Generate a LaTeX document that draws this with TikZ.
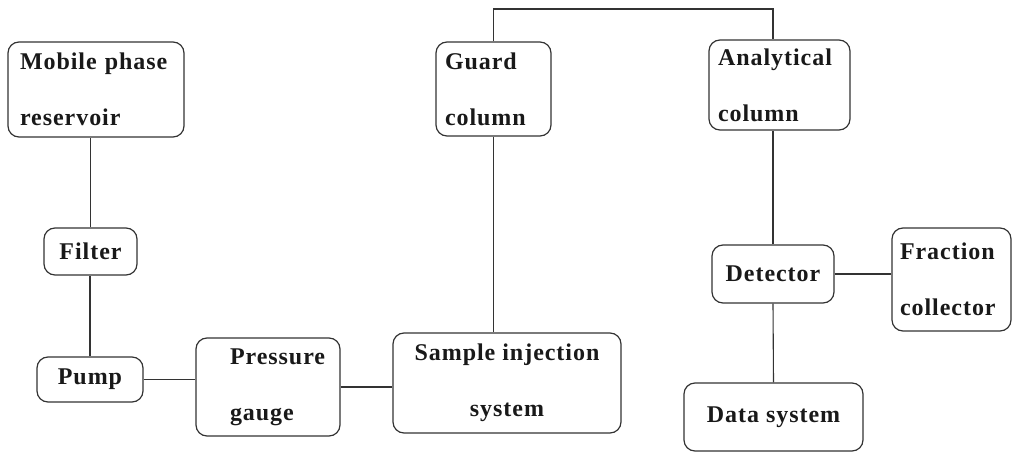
\documentclass[tikz,border=0pt]{standalone}
\usepackage{fontspec}
\newfontfamily\lblfont{Liberation Serif}[LetterSpace=4]
\begin{document}
\begin{tikzpicture}[x=1pt,y=-1pt,
  box/.style={draw=black!80, line width=1.2pt, rounded corners=11pt, inner ysep=0pt,
    font=\lblfont\bfseries\fontsize{24}{56}\selectfont, text=black!90},
  lbox/.style={box, align=left},
  conn/.style={draw=black!80, line width=1.1pt}]
\useasboundingbox (0,0) rectangle (1012,452);
\node[lbox, minimum width=176pt, minimum height=95pt, text width=152pt, inner xsep=12pt] (mpr) at (96,89.5) {Mobile phase\\reservoir};
\node[box, minimum width=93pt, minimum height=47pt] (filter) at (90.5,251.5) {Filter};
\node[box, minimum width=106pt, minimum height=45pt] (pump) at (90,379.5) {Pump};
\node[lbox, minimum width=144pt, minimum height=98pt, text width=76pt, inner xsep=34pt] (pressure) at (268,387) {Pressure\\gauge};
\node[box, align=center, minimum width=228pt, minimum height=100pt] (sample) at (507,383) {Sample injection\\system};
\node[lbox, minimum width=115pt, minimum height=94pt, text width=97pt, inner xsep=9pt] (guard) at (493.5,89) {Guard\\column};
\node[lbox, minimum width=141pt, minimum height=90pt, text width=123pt, inner xsep=9pt] (analytical) at (779.5,85) {Analytical\\column};
\node[box, minimum width=122pt, minimum height=58pt] (detector) at (773,274) {Detector};
\node[lbox, minimum width=119pt, minimum height=103pt, text width=103pt, inner xsep=8pt] (fraction) at (951.5,279.5) {Fraction\\collector};
\node[box, minimum width=179pt, minimum height=68pt] (data) at (773.5,417) {Data system};
\coordinate (top) at (0,9);
\draw[conn] (filter.north) -- (filter.north |- mpr.south);
\draw[conn] (pump.north) -- (pump.north |- filter.south);
\draw[conn] (pump.east) -- (pump.east -| pressure.west);
\draw[conn] (pressure.east) -- (pressure.east -| sample.west);
\draw[conn] (guard.south) -- (guard.south |- sample.north);
\draw[conn] (guard.north) -- (guard.north |- top) -- (detector.north |- top) -- (detector.north |- analytical.north);
\draw[conn] (detector.north) -- (detector.north |- analytical.south);
\draw[conn] (detector.east) -- (detector.east -| fraction.west);
\draw[conn] (detector.south) -- (data.north);
\end{tikzpicture}
\end{document}
